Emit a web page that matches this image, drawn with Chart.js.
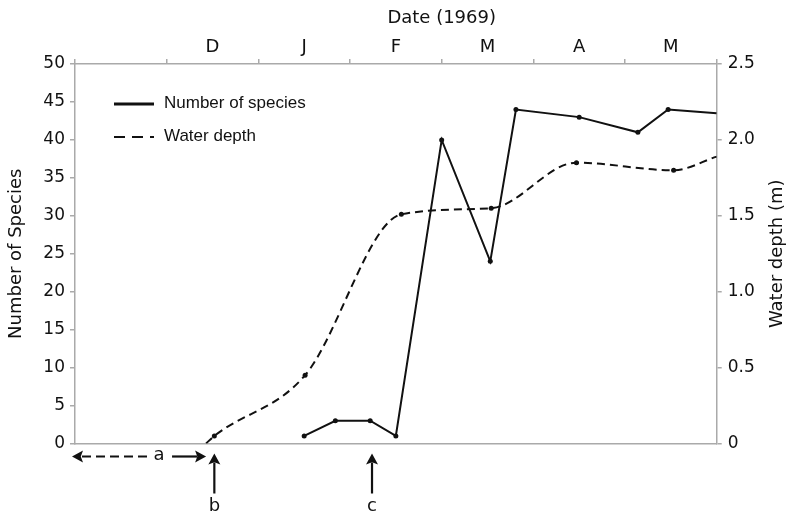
<!DOCTYPE html>
<html>
<head>
<meta charset="utf-8">
<script src="https://cdn.jsdelivr.net/npm/chart.js@4.4.1/dist/chart.umd.min.js"></script>
<style>
  html, body { margin: 0; padding: 0; background: #fff; }
  #wrap { width: 789px; height: 514px; }
</style>
</head>
<body>
<div id="wrap"><canvas id="myChart"></canvas></div>
<script>
// x = months since 1 Nov 1968 (0) up to 1 Jun 1969 (7)
const monthLabels = ['', 'D', 'J', 'F', 'M', 'A', 'M'];

const speciesMonths = [2.50, 2.84, 3.22, 3.50, 4.00, 4.53, 4.81, 5.50, 6.14, 6.47, 7.00];
const speciesCounts = [1, 3, 3, 1, 40, 24, 44, 43, 41, 44, 43.5];

const depthMonths = [1.43, 1.52, 2.51, 3.56, 4.54, 5.47, 6.53, 7.00];
const depthValues = [0, 0.05, 0.45, 1.51, 1.55, 1.85, 1.80, 1.89];

// annotation marks below the axis (a = dry period, b = flooding, c = first species)
const floodStart = 1.43;
const markB = 1.52;
const markC = 3.24;

const INK = '#111';
const AXIS = '#aaa';

Chart.defaults.font.family = '"DejaVu Sans", sans-serif';
Chart.defaults.color = INK;

function arrowHead(ctx, x, y, dx, dy) {
  // filled head, tip at (x, y), pointing along (dx, dy)
  const len = 11, half = 6;
  const px = -dy, py = dx;
  ctx.beginPath();
  ctx.moveTo(x, y);
  ctx.lineTo(x - dx * len + px * half, y - dy * len + py * half);
  ctx.lineTo(x - dx * len * 0.8, y - dy * len * 0.8);
  ctx.lineTo(x - dx * len - px * half, y - dy * len - py * half);
  ctx.closePath();
  ctx.fill();
}

const extras = {
  id: 'extras',
  afterDraw(chart) {
    const { ctx, chartArea } = chart;
    const x = chart.scales.x;
    ctx.save();
    ctx.strokeStyle = INK;
    ctx.fillStyle = INK;

    // top title, centred on the F|M boundary
    ctx.font = '18px "DejaVu Sans", sans-serif';
    ctx.textAlign = 'center';
    ctx.textBaseline = 'middle';
    ctx.fillText('Date (1969)', x.getPixelForValue(4), 18);

    // right axis title, reading upwards
    ctx.save();
    ctx.translate(chart.width - 12, (chartArea.top + chartArea.bottom) / 2);
    ctx.rotate(-Math.PI / 2);
    ctx.fillText('Water depth (m)', 0, 0);
    ctx.restore();

    // legend
    const lx = chartArea.left + 39;
    const ly1 = chartArea.top + 40;
    const ly2 = chartArea.top + 73;
    ctx.lineWidth = 3;
    ctx.beginPath(); ctx.moveTo(lx, ly1); ctx.lineTo(lx + 40, ly1); ctx.stroke();
    ctx.lineWidth = 2;
    ctx.setLineDash([11, 7]);
    ctx.beginPath(); ctx.moveTo(lx, ly2); ctx.lineTo(lx + 40, ly2); ctx.stroke();
    ctx.setLineDash([]);
    ctx.font = '17px "Liberation Sans", Arial, sans-serif';
    ctx.textAlign = 'left';
    ctx.fillText('Number of species', lx + 50, ly1 - 1);
    ctx.fillText('Water depth', lx + 50, ly2 - 1);

    // a: dashed double arrow
    const ya = chartArea.bottom + 13;
    const xa0 = x.getPixelForValue(0) - 3;
    const xa1 = x.getPixelForValue(floodStart);
    const xMid = (xa0 + xa1) / 2 + 20;
    ctx.lineWidth = 2.2;
    arrowHead(ctx, xa0, ya, -1, 0);
    ctx.setLineDash([9, 5]);
    ctx.beginPath(); ctx.moveTo(xa0 + 10, ya); ctx.lineTo(xMid - 12, ya); ctx.stroke();
    ctx.setLineDash([]);
    ctx.beginPath(); ctx.moveTo(xMid + 13, ya); ctx.lineTo(xa1 - 9, ya); ctx.stroke();
    arrowHead(ctx, xa1, ya, 1, 0);
    ctx.font = '18px "DejaVu Sans", sans-serif';
    ctx.textAlign = 'center';
    ctx.fillText('a', xMid, ya - 1);

    // b and c: upward arrows
    [[markB, 'b'], [markC, 'c']].forEach(([m, label]) => {
      const px = x.getPixelForValue(m);
      const tip = chartArea.bottom + 10;
      ctx.beginPath(); ctx.moveTo(px, chartArea.bottom + 50); ctx.lineTo(px, tip + 9); ctx.stroke();
      arrowHead(ctx, px, tip, 0, -1);
      ctx.fillText(label, px, chartArea.bottom + 63);
    });
    ctx.restore();
  }
};

const ctx = document.getElementById('myChart').getContext('2d');
const chart = new Chart(ctx, {
  type: 'line',
  data: {
    datasets: [
      {
        label: 'Number of species',
        data: speciesMonths.map((m, i) => ({ x: m, y: speciesCounts[i] })),
        yAxisID: 'y',
        borderColor: INK,
        borderWidth: 2,
        tension: 0,
        pointRadius: c => (c.dataIndex === speciesMonths.length - 1 ? 0 : 2.5),
        pointBackgroundColor: INK,
        pointBorderWidth: 0,
      },
      {
        label: 'Water depth',
        data: depthMonths.map((m, i) => ({ x: m, y: depthValues[i] })),
        yAxisID: 'y2',
        borderColor: INK,
        borderWidth: 2,
        borderDash: [8, 5],
        cubicInterpolationMode: 'monotone',
        pointRadius: c => (c.dataIndex === 0 || c.dataIndex === depthMonths.length - 1 ? 0 : 2.5),
        pointBackgroundColor: INK,
        pointBorderWidth: 0,
      }
    ]
  },
  options: {
    responsive: true,
    maintainAspectRatio: false,
    animation: false,
    layout: { padding: 0 },
    plugins: {
      legend: { display: false },
      tooltip: { enabled: false }
    },
    scales: {
      x: {
        type: 'linear',
        position: 'top',
        min: 0,
        max: 7,
        ticks: {
          stepSize: 0.5,
          autoSkip: false,
          maxRotation: 0,
          padding: 1,
          font: { size: 18 },
          callback: v => (v % 1 === 0.5 ? monthLabels[Math.floor(v)] : '')
        },
        grid: {
          drawOnChartArea: false,
          tickLength: 5,
          lineWidth: 1.5,
          color: c => (c.tick && c.tick.value % 1 === 0 ? AXIS : 'rgba(0,0,0,0)')
        },
        border: { color: AXIS, width: 1.5 },
        afterFit: s => { s.height = 64; }
      },
      xb: {
        type: 'linear',
        position: 'bottom',
        min: 0,
        max: 7,
        ticks: { display: false },
        grid: { drawOnChartArea: false, drawTicks: false },
        border: { color: AXIS, width: 1.5 },
        afterFit: s => { s.height = 70.5; }
      },
      y: {
        position: 'left',
        min: 0,
        max: 50,
        ticks: { stepSize: 5, padding: 5, font: { size: 17 } },
        grid: { drawOnChartArea: false, tickLength: 5, color: AXIS, lineWidth: 1.5 },
        border: { color: AXIS, width: 1.5 },
        title: { display: true, text: 'Number of Species', font: { size: 18 }, padding: { top: 6 } },
        afterFit: s => { s.width = 75; }
      },
      y2: {
        position: 'right',
        min: 0,
        max: 2.5,
        ticks: {
          stepSize: 0.5,
          padding: 6,
          font: { size: 17 },
          callback: v => (v === 0 ? '0' : v.toFixed(1))
        },
        grid: { drawOnChartArea: false, tickLength: 5, color: AXIS, lineWidth: 1.5 },
        border: { color: AXIS, width: 1.5 },
        afterFit: s => { s.width = 72.3; }
      }
    }
  },
  plugins: [extras]
});
</script>
</body>
</html>
